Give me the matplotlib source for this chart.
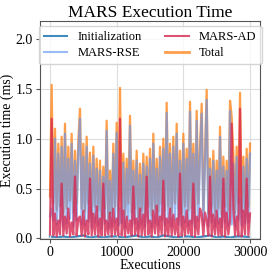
import numpy as np
import matplotlib
matplotlib.use("Agg")
import matplotlib.pyplot as plt

plt.rcParams['font.family'] = ['Liberation Serif', 'DejaVu Serif']

# ---- data (ms), sampled every 250 executions ----
total = [0.42, 1.54, 0.35, 1.10, 0.28, 0.95, 0.32, 1.02, 0.25, 1.15,
         0.30, 0.92, 0.38, 1.05, 0.26, 0.88, 0.35, 0.98, 1.30, 0.30,
         0.95, 0.27, 1.02, 0.35, 0.86, 0.24, 0.92, 0.32, 0.80, 0.28,
         0.78, 0.22, 0.72, 0.30, 1.18, 0.20, 0.68, 0.25, 0.95, 0.32,
         1.16, 0.28, 1.51, 0.30, 0.85, 0.24, 0.80, 0.35, 1.23, 0.26,
         0.78, 0.30, 0.88, 0.22, 0.75, 0.28, 0.85, 0.25, 0.82, 0.32,
         0.90, 0.23, 1.05, 0.30, 0.80, 0.27, 0.92, 0.35, 1.00, 0.28,
         1.36, 0.32, 0.95, 0.26, 1.02, 0.35, 1.15, 0.30, 0.88, 0.25,
         1.05, 0.32, 0.90, 0.28, 1.37, 0.30, 0.95, 0.24, 1.28, 0.35,
         0.92, 1.35, 0.28, 0.85, 1.49, 0.25, 0.80, 0.32, 0.88, 0.26,
         0.78, 0.30, 1.12, 0.24, 0.82, 0.32, 0.78, 0.28, 1.38, 1.22,
         0.85, 0.25, 0.92, 0.35, 1.46, 0.27, 0.82, 0.30, 0.90, 0.32,
         0.95]

rse = [0.22, 0.30, 0.18, 1.00, 0.14, 0.85, 0.16, 0.92, 0.12, 1.05,
       0.15, 0.80, 0.20, 0.95, 0.12, 0.78, 0.18, 0.88, 1.20, 0.14,
       0.82, 0.13, 0.92, 0.17, 0.75, 0.11, 0.83, 0.16, 0.70, 0.13,
       0.68, 0.10, 0.62, 0.15, 1.08, 0.10, 0.58, 0.12, 0.85, 0.16,
       1.06, 0.13, 0.30, 0.15, 0.76, 0.11, 0.70, 0.18, 1.13, 0.12,
       0.68, 0.15, 0.78, 0.10, 0.64, 0.14, 0.75, 0.12, 0.72, 0.16,
       0.80, 0.11, 0.95, 0.15, 0.70, 0.13, 0.82, 0.18, 0.90, 0.13,
       1.26, 0.16, 0.85, 0.12, 0.92, 0.18, 1.05, 0.14, 0.78, 0.12,
       0.95, 0.16, 0.80, 0.13, 1.27, 0.15, 0.85, 0.11, 1.18, 0.18,
       0.82, 1.25, 0.13, 0.75, 1.39, 0.12, 0.70, 0.16, 0.78, 0.12,
       0.68, 0.15, 1.02, 0.11, 0.72, 0.16, 0.68, 0.13, 1.28, 0.14,
       0.75, 0.12, 0.82, 0.18, 0.40, 0.13, 0.72, 0.15, 0.80, 0.16,
       0.85]

ad = [0.04, 1.20, 0.03, 0.25, 0.02, 0.18, 0.04, 0.55, 0.03, 0.22,
      0.05, 0.30, 0.02, 0.16, 0.04, 0.62, 0.03, 0.20, 0.22, 0.03,
      0.28, 0.02, 0.18, 0.04, 0.60, 0.03, 0.25, 0.04, 0.32, 0.02,
      0.20, 0.03, 0.55, 0.03, 0.18, 0.04, 0.26, 0.02, 0.30, 0.04,
      0.20, 0.03, 1.20, 0.03, 0.28, 0.02, 0.22, 0.05, 0.18, 0.03,
      0.52, 0.04, 0.20, 0.02, 0.30, 0.03, 0.24, 0.03, 0.62, 0.04,
      0.18, 0.02, 0.28, 0.05, 0.33, 0.03, 0.22, 0.04, 0.58, 0.02,
      0.20, 0.03, 0.30, 0.03, 0.24, 0.04, 0.20, 0.02, 0.65, 0.03,
      0.22, 0.03, 0.28, 0.05, 0.18, 0.03, 0.55, 0.02, 0.22, 0.04,
      0.30, 0.25, 0.03, 0.26, 0.18, 0.03, 0.62, 0.02, 0.24, 0.04,
      0.28, 0.03, 0.20, 0.03, 0.60, 0.02, 0.26, 0.04, 0.18, 1.15,
      0.30, 0.03, 0.22, 0.03, 1.30, 0.02, 0.28, 0.04, 0.60, 0.03,
      0.25]

# initialization, sampled every 1000 executions
init = [0.02, 0.01, 0.02, 0.01, 0.02, 0.03, 0.01, 0.02, 0.01, 0.02,
        0.02, 0.01, 0.02, 0.03, 0.01, 0.02, 0.01, 0.03, 0.02, 0.01,
        0.02, 0.02, 0.01, 0.02, 0.03, 0.01, 0.02, 0.01, 0.02, 0.02,
        0.01]

n_exec = 30000
x_main = np.linspace(0, n_exec, len(total))
x_init = np.linspace(0, n_exec, len(init))

fig = plt.figure(figsize=(2.72, 2.75), dpi=100)
ax = fig.add_axes([0.147, 0.131, 0.809, 0.793])

lw = 1.6
ax.plot(x_init, init, color='#1f77b4', alpha=0.85, lw=lw,
        label='Initialization', zorder=0.5)
ax.plot(x_main, rse, color='cornflowerblue', alpha=0.65, lw=lw,
        label='MARS-RSE', zorder=2)
ax.plot(x_main, ad, color='#d62750', alpha=0.8, lw=lw,
        label='MARS-AD', zorder=3)
ax.plot(x_main, total, color='#ff7f0e', alpha=0.75, lw=lw,
        label='Total', zorder=1)

ax.set_ylim(-0.005, 2.18)
ax.set_xticks([0, 10000, 20000, 30000])
ax.set_yticks([0.0, 0.5, 1.0, 1.5, 2.0])
ax.grid(True, color='#dddddd', lw=0.8)
ax.set_axisbelow(True)
for s in ax.spines.values():
    s.set_color('#555555')
    s.set_linewidth(0.8)
ax.tick_params(labelsize=10, length=3, width=0.8, color='#555555', pad=2)

ax.set_title('MARS Execution Time', fontsize=12.5, pad=3)
ax.set_xlabel('Executions', fontsize=10, labelpad=0)
ax.set_ylabel('Execution time (ms)', fontsize=10, labelpad=1)

leg = ax.legend(ncol=2, loc='upper center', fontsize=9, frameon=True,
                handlelength=1.9, columnspacing=1.9, borderaxespad=0.4,
                handletextpad=0.8, labelspacing=0.35)
leg.get_frame().set_alpha(0.8)
for lh in leg.get_lines():
    lh.set_linewidth(1.5)
leg.get_lines()[3].set_linewidth(2.0)

fig.savefig('out.png', dpi=100)
